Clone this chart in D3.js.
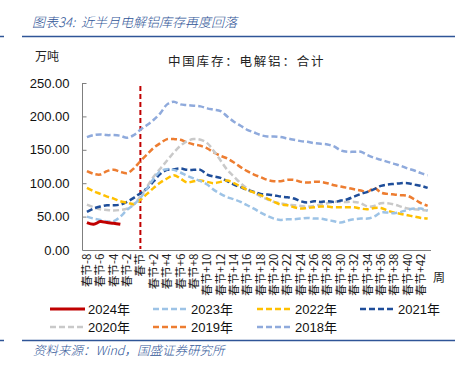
<!DOCTYPE html>
<html><head><meta charset="utf-8">
<script src="https://cdn.jsdelivr.net/npm/d3@7"></script>
<style>
body{margin:0;background:#fff;}
svg{display:block;}
</style></head><body>
<svg id="c" width="469" height="365"></svg>
<script>
const categories = [];
for (let i = -8; i <= 43; i++) categories.push(i < 0 ? "春节" + i : i === 0 ? "春节" : "春节+" + i);
const yTicks = [0, 50, 100, 150, 200, 250];
const s2024 = [41, 38.5, 42.5, 41, 40, 38.5];
const s2023 = [50,47,45,43,43,50,60,68,78,92,107,118,121,120,116,111,107,103,98,90,84,79,76,72,67,62,56,51,47,45,46,46,47,48,47,47,45,43,41,44,46,47,47,50,56,56,55,57,60,62,62,59];
const s2022 = [93,88,84,80,77,73,71,69,75,84,93,101,107,112,107,101,103,104,102,100,102,104,100,95,90,86,82,77,72,68,67,64,62,63,64,65,65,64,64,64,64,62,61,63,63,59,56,54,52,50,48,47];
const s2021 = [57,62,65,67,67,68,72,78,85,92,103,114,120,121,122,120,120,120,113,110,108,103,98,94,90,87,84,83,82,80,79,77,73,71,73,72,73,72,74,76,80,84,87,91,96,98,99,100,100,98,96,93];
const s2020 = [68,64,61,60,59,60,62,68,80,95,110,122,134,146,156,163,166,165,160,148,134,120,110,100,92,86,80,76,72,70,68,67,66,65,66,68,70,72,72,72,72,70,65,66,70,70,68,65,62,61,60,59];
const s2019 = [118,114,113,118,120,117,115,122,133,143,153,160,166,166,165,161,158,156,152,146,141,137,131,124,118,113,109,105,103,103,105,105,102,101,102,102,100,97,95,93,91,89,87,93,86,84,83,82,81,76,70,66];
const s2018 = [169,172,173,172,172,171,168,172,180,187,195,205,218,222,218,217,216,215,212,210,208,200,192,186,180,176,172,170,170,169,167,165,163,162,160,159,158,155,149,147,147,147,142,138,135,132,129,126,122,119,115,112];
const seriesNames = ["2024年","2023年","2022年","2021年","2020年","2019年","2018年"];
const seriesValues = [s2024, s2023, s2022, s2021, s2020, s2019, s2018];
const seriesColors = ["#C00000","#9DC3E6","#FFC000","#1F4E9A","#C9C9C9","#ED7D31","#8FAADC"];
const markerCategory = "春节";

const svg = d3.select("#c");
const blue = "#2F5597";
// header
svg.append("line").attr("x1",0).attr("x2",4).attr("y1",36.5).attr("y2",36.5).attr("stroke",blue).attr("stroke-width",1.5);
svg.append("line").attr("x1",22).attr("x2",455).attr("y1",36.5).attr("y2",36.5).attr("stroke",blue).attr("stroke-width",1.5);
svg.append("text").attr("x",32).attr("y",27).attr("fill",blue).attr("font-family","Noto Sans CJK SC").attr("font-style","italic").attr("font-size",13).attr("font-weight",300).text("图表34:\u00A0\u00A0近半月电解铝库存再度回落");
// footer
svg.append("line").attr("x1",0).attr("x2",4).attr("y1",340.5).attr("y2",340.5).attr("stroke",blue).attr("stroke-width",1.5);
svg.append("line").attr("x1",22).attr("x2",455).attr("y1",340.5).attr("y2",340.5).attr("stroke",blue).attr("stroke-width",1.5);
svg.append("text").attr("x",33).attr("y",355).attr("fill",blue).attr("font-family","Noto Sans CJK SC").attr("font-style","italic").attr("font-size",12.5).attr("font-weight",300).text("资料来源：Wind，国盛证券研究所");

svg.append("text").attr("x",35).attr("y",61).attr("font-family","Noto Sans CJK SC").attr("font-size",12).attr("fill","#222").text("万吨");
svg.append("text").attr("x",168).attr("y",66).attr("font-family","Noto Sans CJK SC").attr("font-size",12.5).attr("letter-spacing",1.8).attr("fill","#222").text("中国库存：电解铝：合计");

const x = d3.scaleBand().domain(categories).range([83.6, 431]).padding(0);
const y = d3.scaleLinear().domain([0, 250]).range([250, 83]);
const cx = c => x(c) + x.bandwidth()/2;

// y axis
const yAxis = svg.append("g").attr("transform","translate(82.5,0)")
  .call(d3.axisLeft(y).tickValues(yTicks).tickSize(-4).tickPadding(13).tickFormat(d3.format(".2f")));
yAxis.select(".domain").attr("stroke","#7f7f7f").attr("d","M0,"+y(250)+"V"+y(0));
yAxis.selectAll(".tick line").attr("stroke","#7f7f7f");
yAxis.selectAll("text").attr("font-family","Liberation Sans, Arial").attr("font-size",13).attr("fill","#111");

// x axis
const xAxis = svg.append("g").attr("transform","translate(0,250.5)")
  .call(d3.axisBottom(x).tickValues(categories.filter((d,i)=>i%2===0)).tickSize(0).tickPadding(0));
xAxis.select(".domain").attr("stroke","#7f7f7f").attr("d","M82.5,0H431");
xAxis.selectAll("text").attr("font-family","Noto Sans CJK SC, Liberation Sans").attr("font-size",11.5).attr("fill","#222")
  .attr("transform","rotate(-90)").attr("text-anchor","end").attr("x",-3).attr("y",0).attr("dy","0.35em");
svg.append("text").attr("x",433).attr("y",282).attr("font-family","Noto Sans CJK SC").attr("font-size",12).attr("fill","#222").text("周");

// marker line
svg.append("line").attr("x1",cx(markerCategory)).attr("x2",cx(markerCategory)).attr("y1",86).attr("y2",249)
  .attr("stroke","#C00000").attr("stroke-width",2).attr("stroke-dasharray","5,3");

const line = d3.line().x((d,i)=>cx(categories[i])).y(d=>y(d)).curve(d3.curveCatmullRom.alpha(0.5));
const order = [6,5,4,3,2,1,0];
order.forEach(k=>{
  svg.append("path").attr("d",line(seriesValues[k])).attr("fill","none").attr("stroke",seriesColors[k])
    .attr("stroke-width", k===0?3:2.5).attr("stroke-dasharray", k===0?null:"6,3");
});

// legend
const legPos = [[50,309],[153,309],[257,309],[360,309],[50,327],[153,327],[257,327]];
seriesNames.forEach((n,k)=>{
  const [lx,ly] = legPos[k];
  svg.append("line").attr("x1",lx).attr("x2",lx+35).attr("y1",ly).attr("y2",ly).attr("stroke",seriesColors[k])
    .attr("stroke-width",k===0?3:2.5).attr("stroke-dasharray",k===0?null:"6,3");
  svg.append("text").attr("x",lx+38).attr("y",ly+4.5).attr("font-family","Liberation Sans, Noto Sans CJK SC").attr("font-size",13).attr("fill","#111").text(n);
});
</script></body></html>
